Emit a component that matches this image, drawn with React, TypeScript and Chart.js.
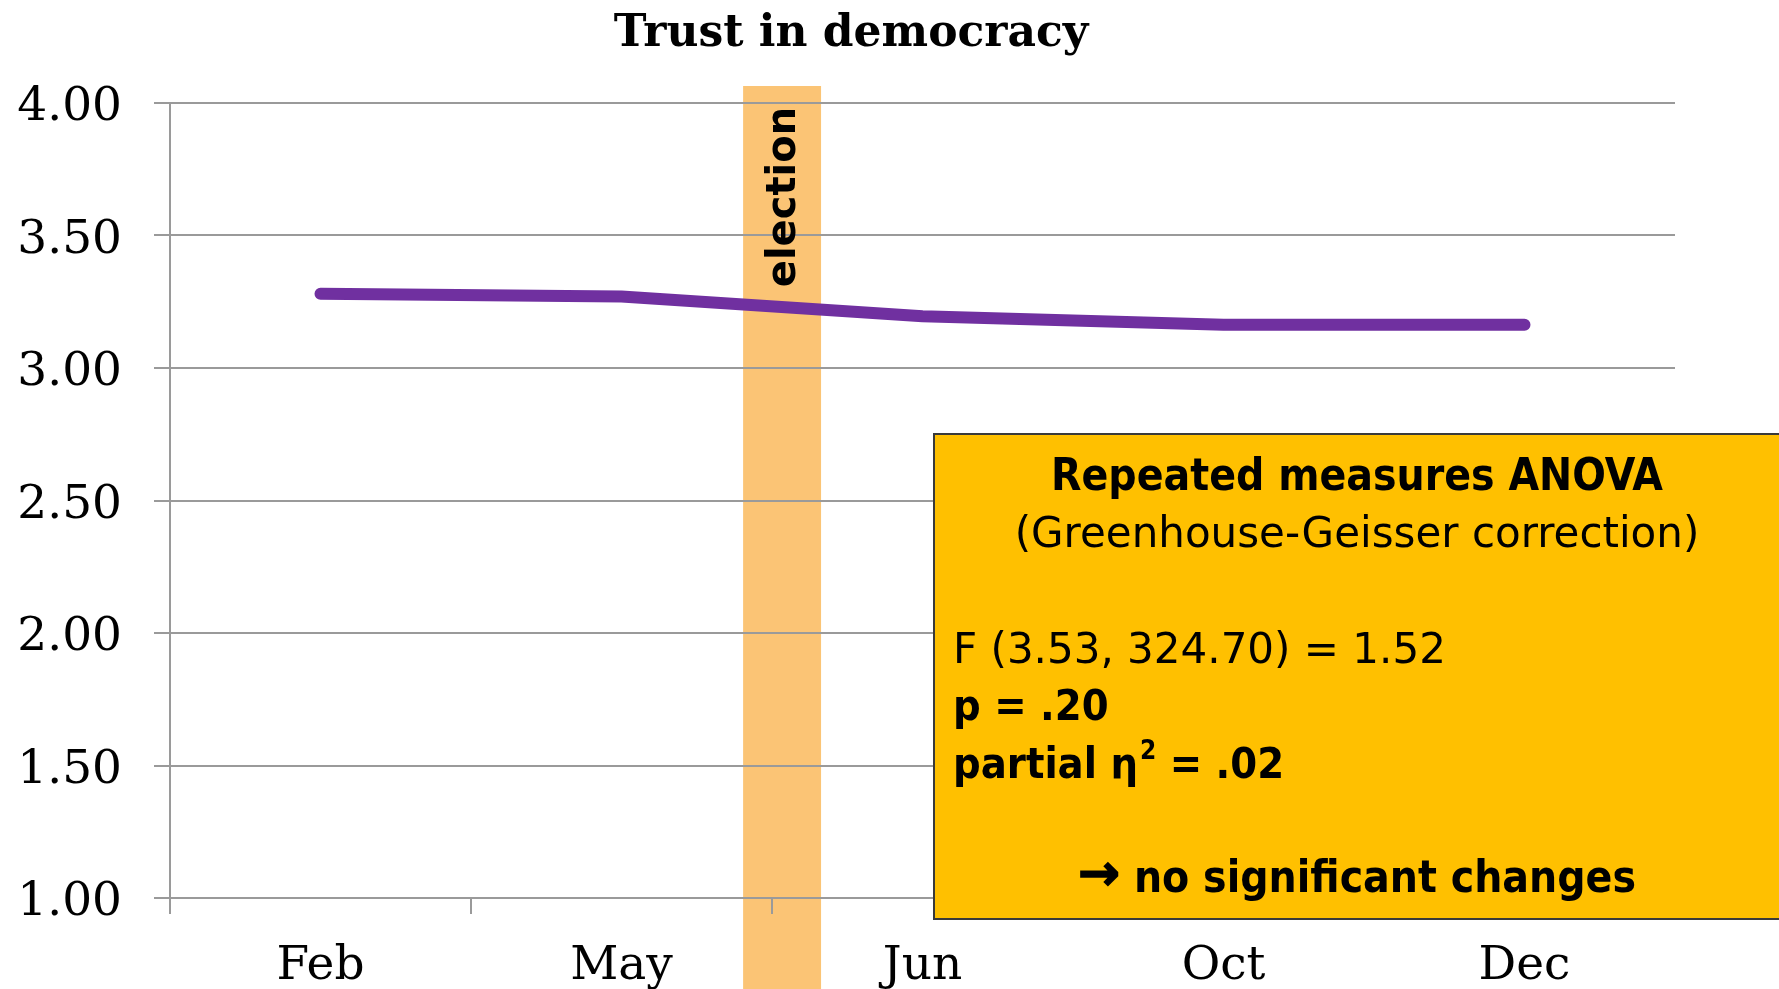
import React, { useEffect, useRef } from "react";
import { Chart, registerables } from "chart.js";

Chart.register(...registerables);

const categories = ["Feb", "May", "Jun", "Oct", "Dec"];
const trustValues = [3.28, 3.27, 3.195, 3.163, 3.163];
const yTickValues = [1, 1.5, 2, 2.5, 3, 3.5, 4];
const chartTitle = "Trust in democracy";
const electionLabel = "election";
const electionRange = [1.404, 1.663];
const boxTitle = "Repeated measures ANOVA";
const boxSubtitle = "(Greenhouse-Geisser correction)";
const boxStatF = "F (3.53, 324.70) = 1.52";
const boxStatP = "p = .20";
const boxStatEta = "partial η";
const boxStatEtaRest = " = .02";
const boxArrow = "\u2192";
const boxConclusion = "no significant changes";

const SERIF = "'DejaVu Serif', 'Liberation Serif', serif";
const SANS_COND = "'DejaVu Sans Condensed', 'DejaVu Sans', sans-serif";
const SANS = "'DejaVu Sans', sans-serif";

const backgroundPlugin = {
  id: "electionBand",
  beforeDraw(chart: any) {
    const { ctx, scales, chartArea } = chart;
    const x = scales.x;
    const x0 = x.getPixelForValue(electionRange[0]);
    const x1 = x.getPixelForValue(electionRange[1]);
    ctx.save();
    ctx.fillStyle = "#FBC475";
    ctx.fillRect(x0, chartArea.top - 17, x1 - x0, chart.height);
    ctx.restore();
  },
  afterDatasetsDraw(chart: any) {
    const { ctx, scales, chartArea } = chart;
    const x = scales.x;
    const x0 = x.getPixelForValue(electionRange[0]);
    const x1 = x.getPixelForValue(electionRange[1]);
    ctx.save();
    ctx.translate((x0 + x1) / 2 + 13, chartArea.top + 94);
    ctx.rotate(-Math.PI / 2);
    ctx.font = `bold 40px ${SANS}`;
    ctx.fillStyle = "#000";
    ctx.textAlign = "center";
    ctx.textBaseline = "alphabetic";
    ctx.fillText(electionLabel, 0, 0);
    ctx.restore();
  },
};

const overlayPlugin = {
  id: "overlay",
  afterDraw(chart: any) {
    const { ctx } = chart;
    ctx.save();
    // title
    ctx.font = `bold 44px ${SERIF}`;
    ctx.fillStyle = "#000";
    ctx.textAlign = "center";
    ctx.textBaseline = "alphabetic";
    ctx.fillText(chartTitle, 851, 46);

    // stats box
    const bx = 934;
    const by = 434;
    const bw = chart.width - bx + 10;
    const bh = 485;
    ctx.fillStyle = "#FFC000";
    ctx.fillRect(bx, by, bw, bh);
    ctx.strokeStyle = "#3a3a3a";
    ctx.lineWidth = 2;
    ctx.strokeRect(bx, by, bw, bh);

    const cx = 1357;
    const lx = 953;
    ctx.fillStyle = "#000";
    ctx.textAlign = "center";
    ctx.font = `bold 44px ${SANS_COND}`;
    ctx.fillText(boxTitle, cx, 490);
    ctx.font = `42px ${SANS}`;
    ctx.fillText(boxSubtitle, cx, 547);
    ctx.textAlign = "left";
    ctx.fillText(boxStatF, lx, 663);
    ctx.font = `bold 43px ${SANS_COND}`;
    ctx.fillText(boxStatP, lx, 720);
    ctx.fillText(boxStatEta, lx, 778);
    const w1 = ctx.measureText(boxStatEta).width;
    ctx.font = `bold 26px ${SANS_COND}`;
    ctx.fillText("2", lx + w1 + 2, 759);
    const w2 = ctx.measureText("2").width;
    ctx.font = `bold 43px ${SANS_COND}`;
    ctx.fillText(boxStatEtaRest, lx + w1 + 2 + w2, 778);

    // conclusion line with a heavier arrow
    ctx.font = `bold 44px ${SANS_COND}`;
    const wText = ctx.measureText(boxConclusion).width;
    ctx.font = `bold 50px ${SANS}`;
    const wArrow = ctx.measureText(boxArrow).width;
    const gap = 14;
    const startX = cx - (wArrow + gap + wText) / 2;
    ctx.textAlign = "left";
    ctx.lineWidth = 1.5;
    ctx.strokeStyle = "#000";
    ctx.fillText(boxArrow, startX, 890);
    ctx.strokeText(boxArrow, startX, 890);
    ctx.font = `bold 44px ${SANS_COND}`;
    ctx.fillText(boxConclusion, startX + wArrow + gap, 892);
    ctx.restore();
  },
};

export default function App() {
  const canvasRef = useRef<HTMLCanvasElement | null>(null);

  useEffect(() => {
    if (!canvasRef.current) return;
    const chart = new Chart(canvasRef.current, {
      type: "line",
      data: {
        labels: categories,
        datasets: [
          {
            label: "Trust in democracy",
            data: trustValues,
            borderColor: "#7030A0",
            backgroundColor: "#7030A0",
            borderWidth: 12,
            pointRadius: 0,
            pointHoverRadius: 0,
            borderCapStyle: "round",
            borderJoinStyle: "round",
            tension: 0,
            fill: false,
          },
        ],
      },
      options: {
        animation: false,
        responsive: true,
        maintainAspectRatio: false,
        layout: { padding: { left: 0, right: 104, top: 103, bottom: 0 } },
        plugins: {
          legend: { display: false },
          title: { display: false },
          tooltip: { enabled: false },
        },
        scales: {
          x: {
            type: "category",
            offset: true,
            afterFit(scale: any) {
              scale.height = 91;
            },
            grid: {
              offset: true,
              drawOnChartArea: false,
              drawTicks: true,
              tickLength: 16,
              color: "#9a9a9a",
              lineWidth: 2,
            },
            border: { display: true, color: "#9a9a9a", width: 2 },
            ticks: {
              color: "#000",
              padding: 25,
              font: { family: SERIF, size: 47 },
              maxRotation: 0,
              autoSkip: false,
            },
          },
          y: {
            min: 1,
            max: 4,
            afterFit(scale: any) {
              scale.width = 170;
            },
            afterBuildTicks(scale: any) {
              scale.ticks = yTickValues.map((v) => ({ value: v }));
            },
            grid: {
              color: "#9a9a9a",
              lineWidth: 2,
              tickLength: 16,
            },
            border: { display: true, color: "#9a9a9a", width: 2 },
            ticks: {
              color: "#000",
              padding: 32,
              labelOffset: 5,
              font: { family: SERIF, size: 47 },
              callback: (v: any) => Number(v).toFixed(2),
            },
          },
        },
      },
      plugins: [backgroundPlugin, overlayPlugin],
    });
    return () => chart.destroy();
  }, []);

  return (
    <div style={{ position: "fixed", left: 0, top: 0, width: "1779px", height: "989px", background: "#fff" }}>
      <canvas ref={canvasRef} />
    </div>
  );
}
